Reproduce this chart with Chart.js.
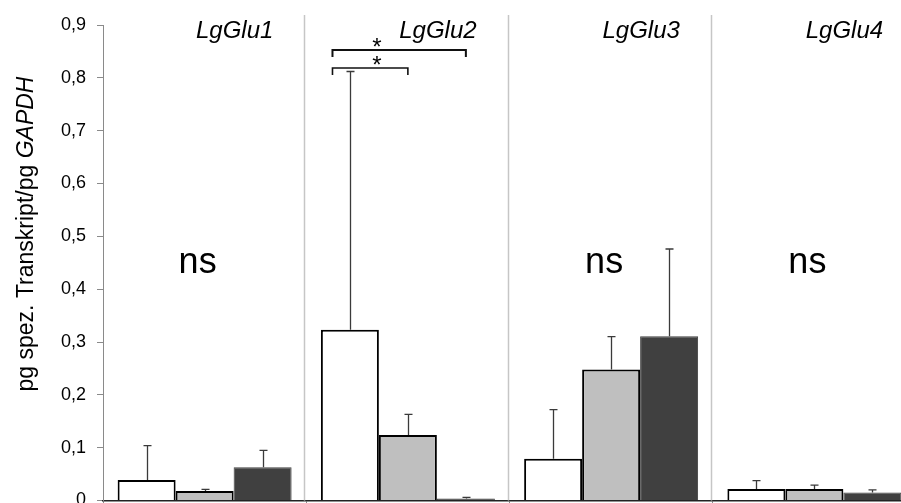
<!DOCTYPE html>
<html>
<head>
<meta charset="utf-8">
<script src="https://cdn.jsdelivr.net/npm/chart.js@4"></script>
<style>
  html, body { margin: 0; padding: 0; background: #fff; overflow: hidden; }
  canvas { display: block; }
</style>
</head>
<body>
<canvas id="c" width="918" height="530"></canvas>
<script>
// Transporter genes (one group each)
const genes = ['LgGlu1', 'LgGlu2', 'LgGlu3', 'LgGlu4'];

// Mean expression, pg specific transcript / pg GAPDH
const whiteMean = [0.039, 0.323, 0.079, 0.022];
const grayMean  = [0.018, 0.124, 0.248, 0.022];
const darkMean  = [0.063, 0.004, 0.311, 0.015];

// Upper error (standard deviation)
const whiteErr = [0.065, 0.489, 0.093, 0.0155];
const grayErr  = [0.003, 0.039, 0.062, 0.007];
const darkErr  = [0.032, 0.002, 0.165, 0.005];

// Statistics labels
const nsGenes = ['LgGlu1', 'LgGlu3', 'LgGlu4'];
const sigGene = 'LgGlu2';
const sigPairs = [[0, 2, '*'], [0, 1, '*']];   // dataset index pairs

const yMin = 0, yMax = 0.9, yStep = 0.1;
const yTitleRegular = 'pg spez. Transkript/pg ';
const yTitleItalic = 'GAPDH';

const FONT = '"Liberation Sans", Arial, sans-serif';
const errs = [whiteErr, grayErr, darkErr];

const decorations = {
  id: 'decorations',
  beforeDatasetsDraw(chart) {
    const ctx = chart.ctx, x = chart.scales.x, area = chart.chartArea;
    ctx.save();
    ctx.strokeStyle = '#c6c6c6';
    ctx.lineWidth = 1.5;
    for (let i = 0; i < genes.length - 1; i++) {
      const bx = Math.round((x.getPixelForValue(i) + x.getPixelForValue(i + 1)) / 2) - 1.5;
      ctx.beginPath();
      ctx.moveTo(bx, 15);
      ctx.lineTo(bx, area.bottom);
      ctx.stroke();
    }
    ctx.restore();
  },
  afterDatasetsDraw(chart) {
    const ctx = chart.ctx, y = chart.scales.y, x = chart.scales.x;
    ctx.save();
    // error bars
    ctx.strokeStyle = '#3a3a3a';
    ctx.lineWidth = 1.3;
    chart.data.datasets.forEach((ds, di) => {
      const meta = chart.getDatasetMeta(di);
      meta.data.forEach((el, i) => {
        const top = y.getPixelForValue(ds.data[i] + errs[di][i]);
        const cx = Math.round(el.x) + 0.5;
        ctx.beginPath();
        ctx.moveTo(cx, el.y);
        ctx.lineTo(cx, top);
        ctx.moveTo(cx - 4, top);
        ctx.lineTo(cx + 4, top);
        ctx.stroke();
      });
    });

    // gene names
    ctx.fillStyle = '#000';
    ctx.font = 'italic 24px ' + FONT;
    ctx.textAlign = 'center';
    ctx.textBaseline = 'alphabetic';
    genes.forEach((g, i) => {
      ctx.fillText(g, x.getPixelForValue(i) + 30, 38);
    });

    // "ns" labels
    ctx.font = '36px ' + FONT;
    nsGenes.forEach(g => {
      const i = genes.indexOf(g);
      ctx.fillText('ns', x.getPixelForValue(i) - 7, 273);
    });

    // significance brackets
    const gi = genes.indexOf(sigGene);
    const bw = chart.getDatasetMeta(0).data[gi].width;
    const rows = [50, 68];
    sigPairs.forEach((p, k) => {
      const a = chart.getDatasetMeta(p[0]).data[gi];
      const b = chart.getDatasetMeta(p[1]).data[gi];
      const x1 = a.x - bw * 0.3, x2 = b.x;
      const yy = rows[k];
      ctx.strokeStyle = '#111';
      ctx.lineWidth = k === 0 ? 2 : 1.6;
      ctx.beginPath();
      ctx.moveTo(x1, yy + 7);
      ctx.lineTo(x1, yy);
      ctx.lineTo(x2, yy);
      ctx.lineTo(x2, yy + 7);
      ctx.stroke();
      const sx = (chart.getDatasetMeta(0).data[gi].x + chart.getDatasetMeta(1).data[gi].x) / 2 - 2;
      ctx.font = '24px ' + FONT;
      ctx.fillText(p[2], sx, yy + 5);
    });

    // y axis title with italic gene name
    ctx.translate(33, 234);
    ctx.rotate(-Math.PI / 2);
    ctx.textAlign = 'left';
    ctx.font = '23px ' + FONT;
    const w1 = ctx.measureText(yTitleRegular).width;
    ctx.font = 'italic 23px ' + FONT;
    const w2 = ctx.measureText(yTitleItalic).width;
    const start = -(w1 + w2) / 2;
    ctx.font = '23px ' + FONT;
    ctx.fillText(yTitleRegular, start, 0);
    ctx.font = 'italic 23px ' + FONT;
    ctx.fillText(yTitleItalic, start + w1, 0);
    ctx.restore();
  }
};

new Chart(document.getElementById('c'), {
  type: 'bar',
  data: {
    labels: genes,
    datasets: [
      { data: whiteMean, backgroundColor: '#ffffff', borderColor: '#000000', borderWidth: 2 },
      { data: grayMean,  backgroundColor: '#bfbfbf', borderColor: '#000000', borderWidth: 2 },
      { data: darkMean,  backgroundColor: '#404040', borderColor: '#404040', borderWidth: 1 }
    ]
  },
  options: {
    responsive: false,
    animation: false,
    events: [],
    layout: { padding: { top: 25, left: 0, right: 2, bottom: 0 } },
    datasets: { bar: { categoryPercentage: 0.856, barPercentage: 1 } },
    plugins: { legend: { display: false }, tooltip: { enabled: false }, title: { display: false } },
    scales: {
      x: {
        ticks: { display: false },
        grid: { display: true, drawOnChartArea: false, tickLength: 4, color: '#888' },
        border: { display: true, color: '#222', width: 1.5 },
        afterFit(s) { s.height = 29.5; }
      },
      y: {
        min: yMin, max: yMax,
        ticks: {
          stepSize: yStep,
          padding: 11,
          color: '#000',
          font: { family: FONT, size: 18 },
          callback: v => (Math.abs(v) < 1e-9 ? '0' : v.toFixed(1).replace('.', ','))
        },
        grid: { display: true, drawOnChartArea: false, tickLength: 6, color: '#8a8a8a' },
        border: { display: true, color: '#8a8a8a', width: 1 },
        afterFit(s) { s.width = 103; }
      }
    }
  },
  plugins: [decorations]
});
</script>
</body>
</html>
